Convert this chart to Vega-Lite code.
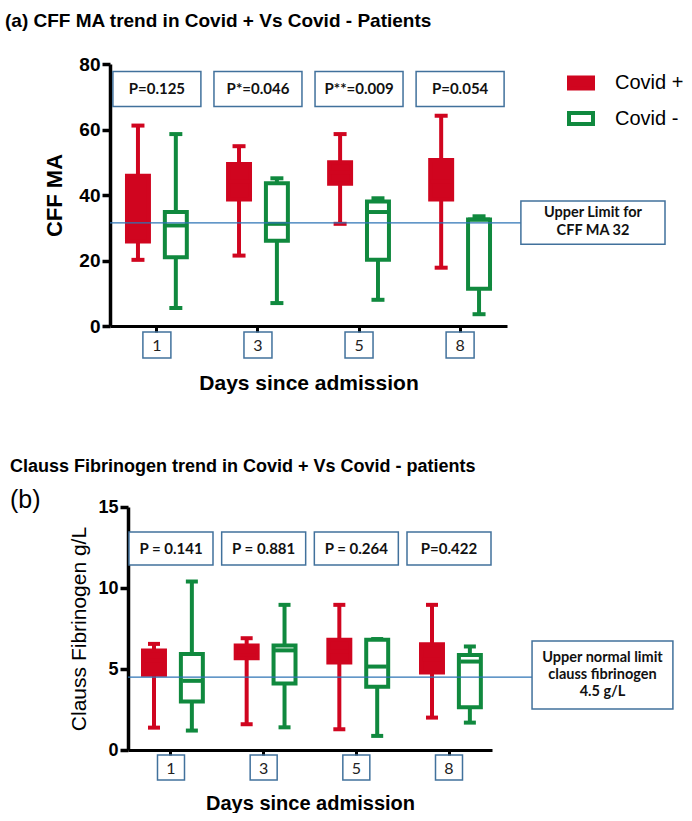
{
  "$schema": "https://vega.github.io/schema/vega-lite/v6.json",
  "background": "white",
  "padding": {"left": 5, "top": 12, "right": 0, "bottom": 0},
  "config": {"view": {"stroke": null}, "font": "Liberation Sans"},
  "columns": 1,
  "spacing": 65,
  "concat": [
    {
      "width": 397,
      "height": 262,
      "title": {"text": "(a)  CFF MA trend in Covid + Vs Covid - Patients", "anchor": "start", "frame": "group", "dx": -105, "offset": 24, "font": "Liberation Sans", "fontSize": 19, "fontWeight": "bold", "color": "black"},
      "resolve": {"scale": {"x": "independent"}},
      "layer": [
        {
          "layer": [
            {
              "data": {"values": [
                {"day": "1", "group": "Covid +", "min": 20.2, "q1": 25.8, "median": 31, "q3": 45.9, "max": 61.2},
                {"day": "1", "group": "Covid -", "min": 5.5, "q1": 21, "median": 30.7, "q3": 34.8, "max": 58.6},
                {"day": "3", "group": "Covid +", "min": 21.5, "q1": 38.6, "median": 44, "q3": 49.5, "max": 54.9},
                {"day": "3", "group": "Covid -", "min": 7, "q1": 26, "median": 31.2, "q3": 43.6, "max": 45.1},
                {"day": "5", "group": "Covid +", "min": 31.2, "q1": 43.4, "median": 47, "q3": 50, "max": 58.6},
                {"day": "5", "group": "Covid -", "min": 8, "q1": 20.2, "median": 34.8, "q3": 38, "max": 39},
                {"day": "8", "group": "Covid +", "min": 17.8, "q1": 38.6, "median": 44, "q3": 50.7, "max": 64.2},
                {"day": "8", "group": "Covid -", "min": 3.6, "q1": 11.4, "median": 32.5, "q3": 32.5, "max": 33.5}
              ]},
              "layer": [
                {
                  "mark": {"type": "rule", "strokeWidth": 4, "opacity": 1},
                  "encoding": {
                    "x": {"field": "day", "type": "nominal", "scale": {"type": "band", "domain": ["1", "3", "5", "8"], "paddingInner": 0.408, "paddingOuter": 0.168},
                      "axis": {"title": "Days since admission", "domainWidth": 3, "domainColor": "black", "tickColor": "black", "tickWidth": 3, "tickSize": 6, "labelFont": "Lato", "labelFontSize": 16, "labelColor": "#222", "labelBaseline": "middle", "labelPadding": 13, "labelAngle": 0, "titleFont": "Liberation Sans", "titleFontSize": 21, "titleFontWeight": "bold", "titleColor": "black", "titlePadding": 19}},
                    "xOffset": {"field": "group", "type": "nominal", "scale": {"domain": ["Covid +", "Covid -"], "paddingInner": 0.42, "paddingOuter": 0}},
                    "y": {"field": "min", "type": "quantitative", "scale": {"domain": [0, 80], "nice": false, "zero": false},
                      "axis": {"title": "CFF MA", "values": [0, 20, 40, 60, 80], "grid": false, "domainWidth": 3.5, "domainColor": "black", "tickColor": "black", "tickWidth": 3.5, "tickSize": 8, "labelFont": "Liberation Sans", "labelFontSize": 19, "labelFontWeight": "bold", "labelColor": "black", "labelPadding": 2, "titleFont": "Liberation Sans", "titleFontSize": 22, "titleFontWeight": "bold", "titleColor": "black", "titlePadding": 12}},
                    "y2": {"field": "max"},
                    "stroke": {"field": "group", "type": "nominal", "scale": {"domain": ["Covid +", "Covid -"], "range": ["#d0051f", "#10893e"]}}
                  }
                },
                {
                  "mark": {"type": "bar", "strokeWidth": 4, "opacity": 1},
                  "encoding": {
                    "x": {"field": "day", "type": "nominal"},
                    "xOffset": {"field": "group", "type": "nominal"},
                    "y": {"field": "q1", "type": "quantitative"},
                    "y2": {"field": "q3"},
                    "fill": {"field": "group", "type": "nominal", "scale": {"domain": ["Covid +", "Covid -"], "range": ["#d0051f", "white"]},
                      "legend": {"title": null, "orient": "none", "legendX": 457, "legendY": 5, "symbolType": "M-1,-0.45H1V0.45H-1Z", "symbolSize": 576, "symbolStrokeWidth": 4, "symbolOpacity": 1, "labelFont": "Liberation Sans", "labelFontSize": 20, "labelColor": "black", "labelOffset": 20, "rowPadding": 7.5, "padding": 0}},
                    "stroke": {"field": "group", "type": "nominal",
                      "legend": {"title": null, "orient": "none", "legendX": 457, "legendY": 5, "symbolType": "M-1,-0.45H1V0.45H-1Z", "symbolSize": 576, "symbolStrokeWidth": 4, "symbolOpacity": 1, "labelFont": "Liberation Sans", "labelFontSize": 20, "labelColor": "black", "labelOffset": 20, "rowPadding": 7.5, "padding": 0}}
                  }
                },
                {
                  "mark": {"type": "tick", "thickness": 4, "size": 22, "opacity": 1},
                  "encoding": {
                    "x": {"field": "day", "type": "nominal"},
                    "xOffset": {"field": "group", "type": "nominal"},
                    "y": {"field": "median", "type": "quantitative"},
                    "color": {"field": "group", "type": "nominal", "scale": {"domain": ["Covid +", "Covid -"], "range": ["#d0051f", "#10893e"]}, "legend": null}
                  }
                },
                {
                  "mark": {"type": "tick", "thickness": 4, "size": 13, "opacity": 1},
                  "encoding": {
                    "x": {"field": "day", "type": "nominal"},
                    "xOffset": {"field": "group", "type": "nominal"},
                    "y": {"field": "min", "type": "quantitative"},
                    "color": {"field": "group", "type": "nominal", "legend": null}
                  }
                },
                {
                  "mark": {"type": "tick", "thickness": 4, "size": 13, "opacity": 1},
                  "encoding": {
                    "x": {"field": "day", "type": "nominal"},
                    "xOffset": {"field": "group", "type": "nominal"},
                    "y": {"field": "max", "type": "quantitative"},
                    "color": {"field": "group", "type": "nominal", "legend": null}
                  }
                }
              ]
            },
            {
              "data": {"values": [
                {"day": "1", "p": "P=0.125"},
                {"day": "3", "p": "P*=0.046"},
                {"day": "5", "p": "P**=0.009"},
                {"day": "8", "p": "P=0.054"}
              ]},
              "layer": [
                {
                  "mark": {"type": "rect", "width": 88, "fill": "white", "stroke": "#41719c", "strokeWidth": 1.5},
                  "encoding": {
                    "x": {"field": "day", "type": "nominal"},
                    "y": {"datum": 77.7, "type": "quantitative"},
                    "y2": {"datum": 67}
                  }
                },
                {
                  "mark": {"type": "text", "font": "Lato", "fontWeight": "bold", "fontSize": 15, "color": "#111"},
                  "encoding": {
                    "x": {"field": "day", "type": "nominal"},
                    "y": {"datum": 72.4, "type": "quantitative"},
                    "text": {"field": "p"}
                  }
                },
                {
                  "mark": {"type": "rect", "width": 28, "fill": "transparent", "stroke": "#41719c", "strokeWidth": 1.5},
                  "encoding": {
                    "x": {"field": "day", "type": "nominal"},
                    "y": {"datum": -1.83, "type": "quantitative"},
                    "y2": {"datum": -9.77}
                  }
                }
              ]
            }
          ]
        },
        {
          "data": {"values": [{"limit": 31.5, "label": "Upper Limit for|CFF MA 32"}]},
          "layer": [
            {
              "mark": {"type": "rule", "color": "#2e75b6", "strokeWidth": 1.3},
              "encoding": {
                "x": {"datum": 0, "type": "quantitative", "scale": {"domain": [0, 1], "nice": false, "zero": false}, "axis": null},
                "x2": {"datum": 1.035},
                "y": {"field": "limit", "type": "quantitative"}
              }
            },
            {
              "mark": {"type": "rect", "fill": "white", "stroke": "#41719c", "strokeWidth": 1.5},
              "encoding": {
                "x": {"datum": 1.035, "type": "quantitative", "axis": null},
                "x2": {"datum": 1.398},
                "y": {"datum": 38.2, "type": "quantitative"},
                "y2": {"datum": 25}
              }
            },
            {
              "mark": {"type": "text", "font": "Lato", "fontWeight": "bold", "fontSize": 14.5, "lineBreak": "|", "lineHeight": 18, "color": "#111"},
              "encoding": {
                "x": {"datum": 1.2166, "type": "quantitative", "axis": null},
                "y": {"datum": 34.5, "type": "quantitative"},
                "text": {"field": "label"}
              }
            }
          ]
        }
      ]
    },
    {
      "width": 382,
      "height": 243,
      "title": {"text": "Clauss Fibrinogen trend in Covid + Vs Covid - patients", "subtitle": "(b)", "anchor": "start", "frame": "group", "dx": -100, "offset": -15, "font": "Liberation Sans", "fontSize": 18, "fontWeight": "bold", "color": "black", "subtitleFont": "Liberation Sans", "subtitleFontSize": 25, "subtitleFontWeight": "normal", "subtitleColor": "black", "subtitlePadding": 12},
      "resolve": {"scale": {"x": "independent"}},
      "layer": [
        {
          "layer": [
            {
              "data": {"values": [
                {"day": "1", "group": "Covid +", "min": 1.38, "q1": 4.64, "median": 5.5, "q3": 6.14, "max": 6.55},
                {"day": "1", "group": "Covid -", "min": 1.2, "q1": 2.99, "median": 4.27, "q3": 5.93, "max": 10.4},
                {"day": "3", "group": "Covid +", "min": 1.59, "q1": 5.67, "median": 6.1, "q3": 6.45, "max": 6.9},
                {"day": "3", "group": "Covid -", "min": 1.4, "q1": 4.1, "median": 6.15, "q3": 6.45, "max": 8.96},
                {"day": "5", "group": "Covid +", "min": 1.28, "q1": 5.4, "median": 6.1, "q3": 6.8, "max": 8.96},
                {"day": "5", "group": "Covid -", "min": 0.87, "q1": 3.9, "median": 5.15, "q3": 6.8, "max": 6.85},
                {"day": "8", "group": "Covid +", "min": 2.0, "q1": 4.78, "median": 5.6, "q3": 6.53, "max": 8.96},
                {"day": "8", "group": "Covid -", "min": 1.69, "q1": 2.64, "median": 5.46, "q3": 5.87, "max": 6.39}
              ]},
              "layer": [
                {
                  "mark": {"type": "rule", "strokeWidth": 4, "opacity": 1},
                  "encoding": {
                    "x": {"field": "day", "type": "nominal", "scale": {"type": "band", "domain": ["1", "3", "5", "8"], "range": [18, 382], "paddingInner": 0.396, "paddingOuter": 0.162},
                      "axis": {"title": "Days since admission", "domainWidth": 3, "domainColor": "black", "tickColor": "black", "tickWidth": 3, "tickSize": 5, "labelFont": "Lato", "labelFontSize": 16, "labelColor": "#222", "labelBaseline": "middle", "labelPadding": 13, "labelAngle": 0, "titleFont": "Liberation Sans", "titleFontSize": 20, "titleFontWeight": "bold", "titleColor": "black", "titlePadding": 17}},
                    "xOffset": {"field": "group", "type": "nominal", "scale": {"domain": ["Covid +", "Covid -"], "paddingInner": 0.457, "paddingOuter": 0.0285}},
                    "y": {"field": "min", "type": "quantitative", "scale": {"domain": [0, 15], "nice": false, "zero": false},
                      "axis": {"title": "Clauss Fibrinogen g/L", "offset": -18, "values": [0, 5, 10, 15], "grid": false, "domainWidth": 3.5, "domainColor": "black", "tickColor": "black", "tickWidth": 3.5, "tickSize": 8, "labelFont": "Liberation Sans", "labelFontSize": 18, "labelFontWeight": "bold", "labelColor": "black", "labelPadding": 2, "titleFont": "Liberation Sans", "titleFontSize": 21, "titleFontWeight": "normal", "titleColor": "black", "titlePadding": 8}},
                    "y2": {"field": "max"},
                    "stroke": {"field": "group", "type": "nominal", "scale": {"domain": ["Covid +", "Covid -"], "range": ["#d0051f", "#10893e"]}}
                  }
                },
                {
                  "mark": {"type": "bar", "strokeWidth": 4, "opacity": 1},
                  "encoding": {
                    "x": {"field": "day", "type": "nominal"},
                    "xOffset": {"field": "group", "type": "nominal"},
                    "y": {"field": "q1", "type": "quantitative"},
                    "y2": {"field": "q3"},
                    "fill": {"field": "group", "type": "nominal", "scale": {"domain": ["Covid +", "Covid -"], "range": ["#d0051f", "white"]},
                      "legend": {"title": null, "orient": "none", "legendX": 438, "legendY": 6, "symbolType": "M-1,-0.45H1V0.45H-1Z", "symbolSize": 576, "symbolStrokeWidth": 4, "symbolOpacity": 1, "labelFont": "Liberation Sans", "labelFontSize": 19, "labelColor": "black", "labelOffset": 20, "rowPadding": 8, "padding": 0}},
                    "stroke": {"field": "group", "type": "nominal",
                      "legend": {"title": null, "orient": "none", "legendX": 438, "legendY": 6, "symbolType": "M-1,-0.45H1V0.45H-1Z", "symbolSize": 576, "symbolStrokeWidth": 4, "symbolOpacity": 1, "labelFont": "Liberation Sans", "labelFontSize": 19, "labelColor": "black", "labelOffset": 20, "rowPadding": 8, "padding": 0}}
                  }
                },
                {
                  "mark": {"type": "tick", "thickness": 4, "size": 19, "opacity": 1},
                  "encoding": {
                    "x": {"field": "day", "type": "nominal"},
                    "xOffset": {"field": "group", "type": "nominal"},
                    "y": {"field": "median", "type": "quantitative"},
                    "color": {"field": "group", "type": "nominal", "scale": {"domain": ["Covid +", "Covid -"], "range": ["#d0051f", "#10893e"]}, "legend": null}
                  }
                },
                {
                  "mark": {"type": "tick", "thickness": 4, "size": 12, "opacity": 1},
                  "encoding": {
                    "x": {"field": "day", "type": "nominal"},
                    "xOffset": {"field": "group", "type": "nominal"},
                    "y": {"field": "min", "type": "quantitative"},
                    "color": {"field": "group", "type": "nominal", "legend": null}
                  }
                },
                {
                  "mark": {"type": "tick", "thickness": 4, "size": 12, "opacity": 1},
                  "encoding": {
                    "x": {"field": "day", "type": "nominal"},
                    "xOffset": {"field": "group", "type": "nominal"},
                    "y": {"field": "max", "type": "quantitative"},
                    "color": {"field": "group", "type": "nominal", "legend": null}
                  }
                }
              ]
            },
            {
              "data": {"values": [
                {"day": "1", "p": "P = 0.141"},
                {"day": "3", "p": "P = 0.881"},
                {"day": "5", "p": "P = 0.264"},
                {"day": "8", "p": "P=0.422"}
              ]},
              "layer": [
                {
                  "mark": {"type": "rect", "width": 84, "fill": "white", "stroke": "#41719c", "strokeWidth": 1.5},
                  "encoding": {
                    "x": {"field": "day", "type": "nominal"},
                    "y": {"datum": 13.46, "type": "quantitative"},
                    "y2": {"datum": 11.42}
                  }
                },
                {
                  "mark": {"type": "text", "font": "Lato", "fontWeight": "bold", "fontSize": 15, "color": "#111"},
                  "encoding": {
                    "x": {"field": "day", "type": "nominal"},
                    "y": {"datum": 12.41, "type": "quantitative"},
                    "text": {"field": "p"}
                  }
                },
                {
                  "mark": {"type": "rect", "width": 27, "fill": "transparent", "stroke": "#41719c", "strokeWidth": 1.5},
                  "encoding": {
                    "x": {"field": "day", "type": "nominal"},
                    "y": {"datum": -0.31, "type": "quantitative"},
                    "y2": {"datum": -1.85}
                  }
                }
              ]
            }
          ]
        },
        {
          "data": {"values": [{"limit": 4.5, "label": "Upper normal limit|clauss fibrinogen|4.5 g/L"}]},
          "layer": [
            {
              "mark": {"type": "rule", "color": "#2e75b6", "strokeWidth": 1.3},
              "encoding": {
                "x": {"datum": 0, "type": "quantitative", "scale": {"domain": [0, 1], "range": [18, 382], "nice": false, "zero": false}, "axis": null},
                "x2": {"datum": 1.11},
                "y": {"field": "limit", "type": "quantitative"}
              }
            },
            {
              "mark": {"type": "rect", "fill": "white", "stroke": "#41719c", "strokeWidth": 1.5},
              "encoding": {
                "x": {"datum": 1.11, "type": "quantitative", "axis": null},
                "x2": {"datum": 1.497},
                "y": {"datum": 6.73, "type": "quantitative"},
                "y2": {"datum": 2.53}
              }
            },
            {
              "mark": {"type": "text", "font": "Lato", "fontWeight": "bold", "fontSize": 14.5, "lineBreak": "|", "lineHeight": 17, "color": "#111"},
              "encoding": {
                "x": {"datum": 1.3036, "type": "quantitative", "axis": null},
                "y": {"datum": 5.68, "type": "quantitative"},
                "text": {"field": "label"}
              }
            }
          ]
        }
      ]
    }
  ]
}
